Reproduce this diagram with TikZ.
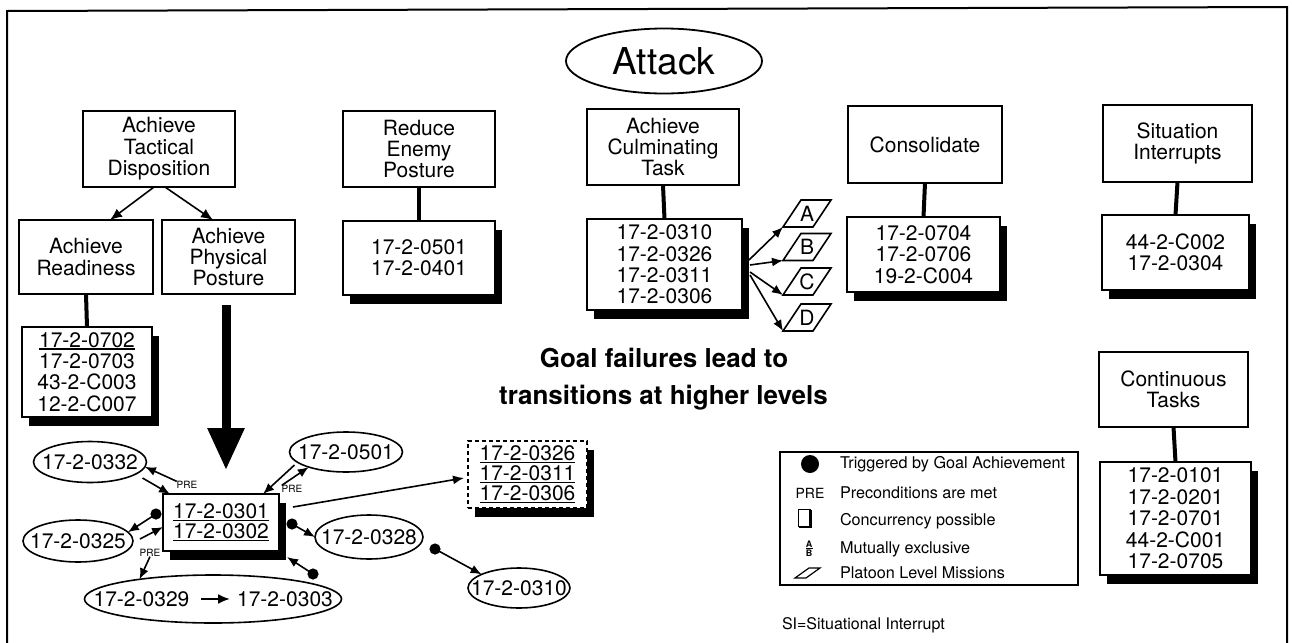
\documentclass[tikz,border=0pt]{standalone}
\usepackage{fontspec}
\setmainfont{TeX Gyre Heros}
\usetikzlibrary{shapes.geometric,arrows.meta,calc,shadows}
\newcommand\ulin[1]{\setbox0=\hbox{#1}\rlap{\rule[-1.3pt]{\wd0}{0.7pt}}\box0}
\newcommand\plgm[3]{%
  \node[txt] (#1) at (807,#2) {#3};
  \draw[line width=0.8pt] ($(#1)+(-24,13.5)$) coordinate (#1bl) -- ++(30,0) -- ++(18,-27) -- ++(-30,0) -- cycle;}
\begin{document}
\begin{tikzpicture}[x=0.5pt,y=-0.5pt,
  every node/.style={inner sep=0pt, outer sep=0pt},
  txt/.style={font=\fontsize{10.5}{10.7}\selectfont, align=center},
  hbox/.style={txt, draw, line width=1pt, fill=white},
  lbox/.style={hbox, drop shadow={shadow xshift=3.5pt, shadow yshift=-4.5pt, opacity=1, fill=black}},
  ell/.style={ellipse, draw, line width=0.8pt, fill=white, label={[txt]center:#1}},
  conn/.style={line width=2pt},
  arr/.style={line width=0.8pt, -{Latex[length=5.5pt,width=4.5pt]}},
  pre/.style={font=\fontsize{5}{5}\selectfont},
  legt/.style={font=\fontsize{8.1}{8.1}\selectfont, anchor=base west},
]
\useasboundingbox (0,0) rectangle (1292,643);
% frame
\draw[line width=1pt] (7,650) -- (7,11) -- (1287,7) -- (1287,650);

% title
\node[ellipse, draw, line width=0.9pt, minimum width=98pt, minimum height=32.5pt,
      label={[font=\fontsize{18.5}{18.5}\selectfont]center:Attack}] (attack) at (664,61) {};

% header boxes
\node[hbox, minimum width=76pt, minimum height=38pt] (atd) at (159,149) {Achieve\\Tactical\\Disposition};
\node[hbox, minimum width=67pt, minimum height=37pt] (ar) at (86,257) {Achieve\\Readiness};
\node[hbox, minimum width=66.5pt, minimum height=37pt] (app) at (228.5,257) {Achieve\\Physical\\Posture};
\node[hbox, minimum width=76pt, minimum height=38pt] (rep) at (419,149) {Reduce\\Enemy\\Posture};
\node[hbox, minimum width=76pt, minimum height=38pt] (act) at (663,147) {Achieve\\Culminating\\Task};
\node[hbox, minimum width=77pt, minimum height=38.5pt] (con) at (925,144.5) {Consolidate};
\node[hbox, minimum width=74.5pt, minimum height=38.5pt] (sih) at (1177.5,143.5) {Situation\\Interrupts};
\node[hbox, minimum width=74.5pt, minimum height=37.5pt] (cth) at (1173.5,389.5) {Continuous\\Tasks};

% list boxes
\node[lbox, minimum width=65pt, minimum height=45pt] (rl) at (87,372) {\ulin{17-2-0702}\\17-2-0703\\43-2-C003\\12-2-C007};
\node[lbox, minimum width=76pt, minimum height=37pt] (repl) at (419,258) {17-2-0501\\17-2-0401};
\node[lbox, minimum width=77.5pt, minimum height=45.5pt] (actl) at (664.5,264.5) {17-2-0310\\17-2-0326\\17-2-0311\\17-2-0306};
\node[lbox, minimum width=76.5pt, minimum height=37.5pt] (conl) at (923.5,254.5) {17-2-0704\\17-2-0706\\19-2-C004};
\node[lbox, minimum width=73.5pt, minimum height=37.5pt] (sil) at (1175.5,252.5) {44-2-C002\\17-2-0304};
\node[lbox, minimum width=75.5pt, minimum height=56.5pt] (ctl) at (1175.5,518.5) {17-2-0101\\17-2-0201\\17-2-0701\\44-2-C001\\17-2-0705};

% connectors header -> list
\draw[arr, -{Latex[length=6pt,width=5pt]}] ($(atd.south)+(-5,0)$) -- ($(ar.north)+(24,0)$);
\draw[arr, -{Latex[length=6pt,width=5pt]}] ($(atd.south)+(6,0)$) -- ($(app.north)+(-15.5,0)$);
\draw[conn] (ar.south) -- (rl.north);
\draw[conn] (rep.south) -- (repl.north);
\draw[conn] (act.south) -- (actl.north);
\draw[conn] (con.south) -- (conl.north);
\draw[conn] (sih.south) -- (sil.north);
\draw[conn] (cth.south) -- (ctl.north);

% platoon missions
\plgm{pA}{213.5}{A}
\plgm{pB}{247}{B}
\plgm{pC}{281.5}{C}
\plgm{pD}{317.5}{D}
\draw[arr] ($(actl.east)+(7,-4.5)$) -- (pAbl);
\draw[arr] ($(actl.east)+(8,0.5)$) -- (pBbl);
\draw[arr] ($(actl.east)+(8,7.5)$) -- (pCbl);
\draw[arr] ($(actl.east)+(8,10.5)$) -- (pDbl);

% goal failure text
\node[font=\bfseries\fontsize{13}{13}\selectfont, anchor=base] (gf1) at (664,367) {Goal failures lead to};
\node[font=\bfseries\fontsize{13}{13}\selectfont, anchor=base] (gf2) at (663.5,404) {transitions at higher levels};

% lower cluster
\node[lbox, font=\fontsize{10.5}{10}\selectfont, minimum width=58pt, minimum height=28.5pt] (ctr) at (221,522.5) {\ulin{17-2-0301}\\\ulin{17-2-0302}};
\node[lbox, dashed, dash pattern=on 2pt off 1.5pt, font=\fontsize{10.5}{10}\selectfont, minimum width=59.5pt, minimum height=33.5pt] (dbox) at (527.5,474.5) {\ulin{17-2-0326}\\\ulin{17-2-0311}\\\ulin{17-2-0306}};

\draw[line width=4.5pt, -{Triangle[width=17.5pt,length=21pt]}] ($(app.south)+(-2.5,11)$) -- ($(ctr.north)+(5,-24)$);

\node[ell=17-2-0332, minimum width=56.5pt, minimum height=20.5pt] (e332) at (90,462) {};
\node[ell=17-2-0501, minimum width=56.5pt, minimum height=20pt] (e501) at (346,452) {};
\node[ell=17-2-0325, minimum width=55pt, minimum height=21pt] (e325) at (78,541) {};
\node[ell=17-2-0328, minimum width=54pt, minimum height=22pt] (e328) at (369,537) {};
\node[ell=17-2-0310, minimum width=51pt, minimum height=20pt] (e310) at (519,588) {};
\node[ellipse, draw, line width=0.8pt, minimum width=128.5pt, minimum height=24pt] (ebig) at (213,599) {};
\node[txt] (t329) at (141.5,599) {17-2-0329};
\node[txt] (t303) at (285,599) {17-2-0303};
\draw[line width=1.2pt, -{Latex[length=6pt,width=5pt]}, shorten <=6pt, shorten >=3.5pt] (t329.east) -- (t303.west);

\node[pre] (pre1) at (187,485) {PRE};
\node[pre] (pre2) at (292,489) {PRE};
\node[pre] (pre3) at (150,553) {PRE};

\draw[arr] (pre1.north west) -- (e332.-5);
\draw[arr] ($(e332.east)+(-4,16)$) -- ($(ctr.north west)+(7,0)$);
\draw[arr] ($(e501.west)+(5,13)$) -- ($(ctr.north east)+(-16,0)$);
\draw[arr] (pre2.north west) -- (e501.-158);
\draw[arr] ($(e325.east)+(7,-2)$) -- ($(ctr.west)+(0,4.5)$);
\draw[arr] (pre3.south) -- (ebig.165);

\coordinate (d325) at ($(ctr.west)+(-7,-8.5)$);
\coordinate (d303) at ($(ebig.center)+(100,-25)$);
\coordinate (d328) at ($(ctr.east)+(13,1.5)$);
\coordinate (d310) at ($(e328.east)+(12,12)$);
\fill (d325) circle (2.8pt);
\fill (d303) circle (2.8pt);
\fill (d328) circle (2.8pt);
\fill (d310) circle (2.8pt);
\draw[arr] (d325) -- (e325.10);
\draw[arr] (d303) -- ($(ctr.south east)+(8,6)$);
\draw[arr] (d328) -- (e328.west);
\draw[arr] (d310) -- (e310.160);
\draw[arr] ($(ctr.north east)+(14,13)$) -- ($(dbox.west)+(-4,3.5)$);

% legend
\node[draw, line width=0.7pt, minimum width=149pt, minimum height=66.5pt] (leg) at (929,518.5) {};
\fill (810,464) circle (4.5pt);
\node[legt] (l1) at (840,468) {Triggered by Goal Achievement};
\node[font=\fontsize{7}{7}\selectfont, anchor=base] (lpre) at (810,498) {PRE};
\node[legt] (l2) at (840,498) {Preconditions are met};
\draw[line width=0.5pt] (798,509) rectangle (810,526);
\draw[line width=1.2pt] (810.5,510) -- (810.5,527) -- (799,527);
\node[legt] (l3) at (840,525) {Concurrency possible};
\node[font=\bfseries\fontsize{4.5}{4.5}\selectfont] (la) at (809,544) {A};
\draw[line width=0.4pt] (805.5,548.5) -- (812.5,548.5);
\node[font=\bfseries\fontsize{4.5}{4.5}\selectfont] (lb) at (809,553) {B};
\node[legt] (l4) at (840,553) {Mutually exclusive};
\draw[line width=0.6pt] (795,578) -- (806,578) -- (820,568) -- (809,568) -- cycle;
\node[legt] (l5) at (840,578) {Platoon Level Missions};
\node[font=\fontsize{8}{8}\selectfont, anchor=base west] (si) at (782,629) {SI=Situational Interrupt};
\end{tikzpicture}
\end{document}
